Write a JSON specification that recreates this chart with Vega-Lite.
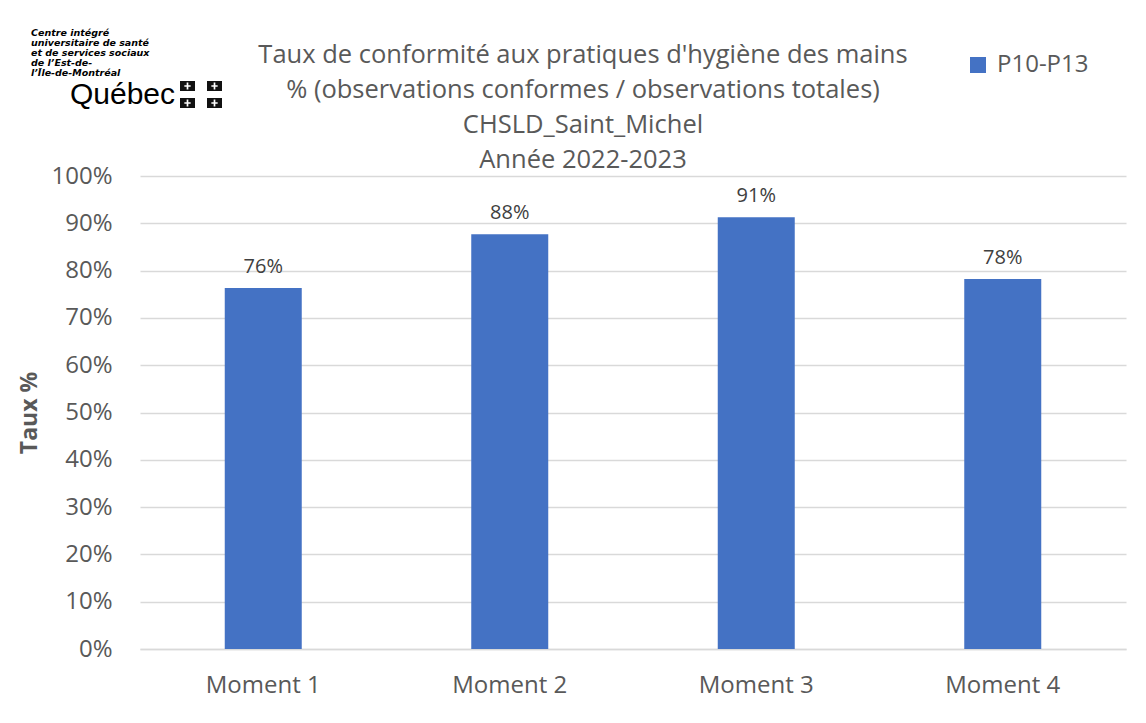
{
  "$schema": "https://vega.github.io/schema/vega-lite/v6.json",
  "autosize": {"type": "none"},
  "width": 986,
  "height": 473,
  "padding": {"left": 140, "top": 176, "right": 20, "bottom": 74},
  "background": "white",
  "config": {
    "font": "Open Sans",
    "view": {"stroke": null}
  },
  "title": {
    "text": ["Taux de conformité aux pratiques d'hygiène des mains", "% (observations conformes / observations totales)", "CHSLD_Saint_Michel", "Année 2022-2023"],
    "font": "Open Sans",
    "fontSize": 25.5,
    "fontWeight": "normal",
    "color": "#595959",
    "lineHeight": 35,
    "anchor": "middle",
    "dx": -50,
    "dy": 153,
    "offset": 8
  },
  "data": {
    "values": [
      {"moment": "Moment 1", "value": 0.763, "series": "P10-P13", "org": "Québec"},
      {"moment": "Moment 2", "value": 0.877, "series": "P10-P13", "org": "Québec"},
      {"moment": "Moment 3", "value": 0.913, "series": "P10-P13", "org": "Québec"},
      {"moment": "Moment 4", "value": 0.782, "series": "P10-P13", "org": "Québec"}
    ]
  },
  "encoding": {
    "x": {
      "field": "moment",
      "type": "nominal",
      "sort": null,
      "scale": {"paddingInner": 0, "paddingOuter": 0},
      "axis": {
        "title": null,
        "labelAngle": 0,
        "labelFont": "Open Sans",
        "labelFontSize": 24,
        "labelColor": "#595959",
        "labelPadding": 24,
        "ticks": false,
        "tickSize": 0,
        "domainColor": "#d9d9d9",
        "domainWidth": 1.5
      }
    },
    "y": {
      "field": "value",
      "type": "quantitative",
      "scale": {"domain": [0, 1], "nice": false},
      "axis": {
        "title": "Taux %",
        "titleFont": "Open Sans",
        "titleFontSize": 23,
        "titleFontWeight": "bold",
        "titleColor": "#595959",
        "titlePadding": 9,
        "format": ".0%",
        "values": [0, 0.1, 0.2, 0.3, 0.4, 0.5, 0.6, 0.7, 0.8, 0.9, 1],
        "labelFont": "Open Sans",
        "labelFontSize": 24,
        "labelColor": "#595959",
        "labelPadding": 28,
        "ticks": false,
        "tickSize": 0,
        "domain": false,
        "grid": true,
        "gridColor": "#d9d9d9",
        "gridWidth": 1.5
      }
    }
  },
  "layer": [
    {
      "mark": {"type": "bar", "size": 77},
      "encoding": {
        "color": {
          "field": "series",
          "type": "nominal",
          "scale": {"range": ["#4472C4"]},
          "legend": {
            "title": null,
            "orient": "none",
            "legendX": 826,
            "legendY": -123,
            "symbolType": "square",
            "symbolSize": 256,
            "symbolStrokeWidth": 0,
            "labelFont": "Open Sans",
            "labelFontSize": 24,
            "labelColor": "#595959",
            "labelOffset": 7,
            "padding": 0
          }
        }
      }
    },
    {
      "mark": {"type": "text", "baseline": "bottom", "dy": -11, "fontSize": 20, "font": "Open Sans", "color": "#404040"},
      "encoding": {
        "text": {"field": "value", "type": "quantitative", "format": ".0%"}
      }
    },
    {
      "mark": {"type": "point", "filled": true, "opacity": 0, "color": "#111111"},
      "encoding": {
        "shape": {
          "field": "org",
          "type": "nominal",
          "scale": {"range": ["M-1,-0.643H-0.286V-0.167H-1Z M-0.683,-0.575V-0.445H-0.793V-0.365H-0.683V-0.235H-0.603V-0.365H-0.493V-0.445H-0.603V-0.575Z M0.286,-0.643H1V-0.167H0.286Z M0.603,-0.575V-0.445H0.493V-0.365H0.603V-0.235H0.683V-0.365H0.793V-0.445H0.683V-0.575Z M-1,0.167H-0.286V0.643H-1Z M-0.683,0.235V0.365H-0.793V0.445H-0.683V0.575H-0.603V0.445H-0.493V0.365H-0.603V0.235Z M0.286,0.167H1V0.643H0.286Z M0.603,0.235V0.365H0.493V0.445H0.603V0.575H0.683V0.445H0.793V0.365H0.683V0.235Z"]},
          "legend": {
            "title": ["Centre intégré", "universitaire de santé", "et de services sociaux", "de l’Est-de-", "l’Île-de-Montréal"],
            "titleFont": "DejaVu Sans",
            "titleFontSize": 9.5,
            "titleFontWeight": "bold",
            "titleFontStyle": "italic",
            "titleColor": "#000000",
            "titleLineHeight": 10,
            "titlePadding": -4,
            "orient": "none",
            "legendX": -109,
            "legendY": -148,
            "padding": 0,
            "symbolSize": 1764,
            "symbolOffset": 149,
            "symbolStrokeWidth": 0,
            "symbolFillColor": "#111111",
            "symbolOpacity": 1,
            "labelFont": "Liberation Sans",
            "labelFontSize": 30,
            "labelColor": "#000000",
            "labelAlign": "right",
            "labelOffset": -47,
            "labelLimit": 300,
            "encode": {
              "symbols": {"update": {"fill": {"value": "#111111"}, "opacity": {"value": 1}, "stroke": {"value": "transparent"}}}
            }
          }
        }
      }
    }
  ]
}
